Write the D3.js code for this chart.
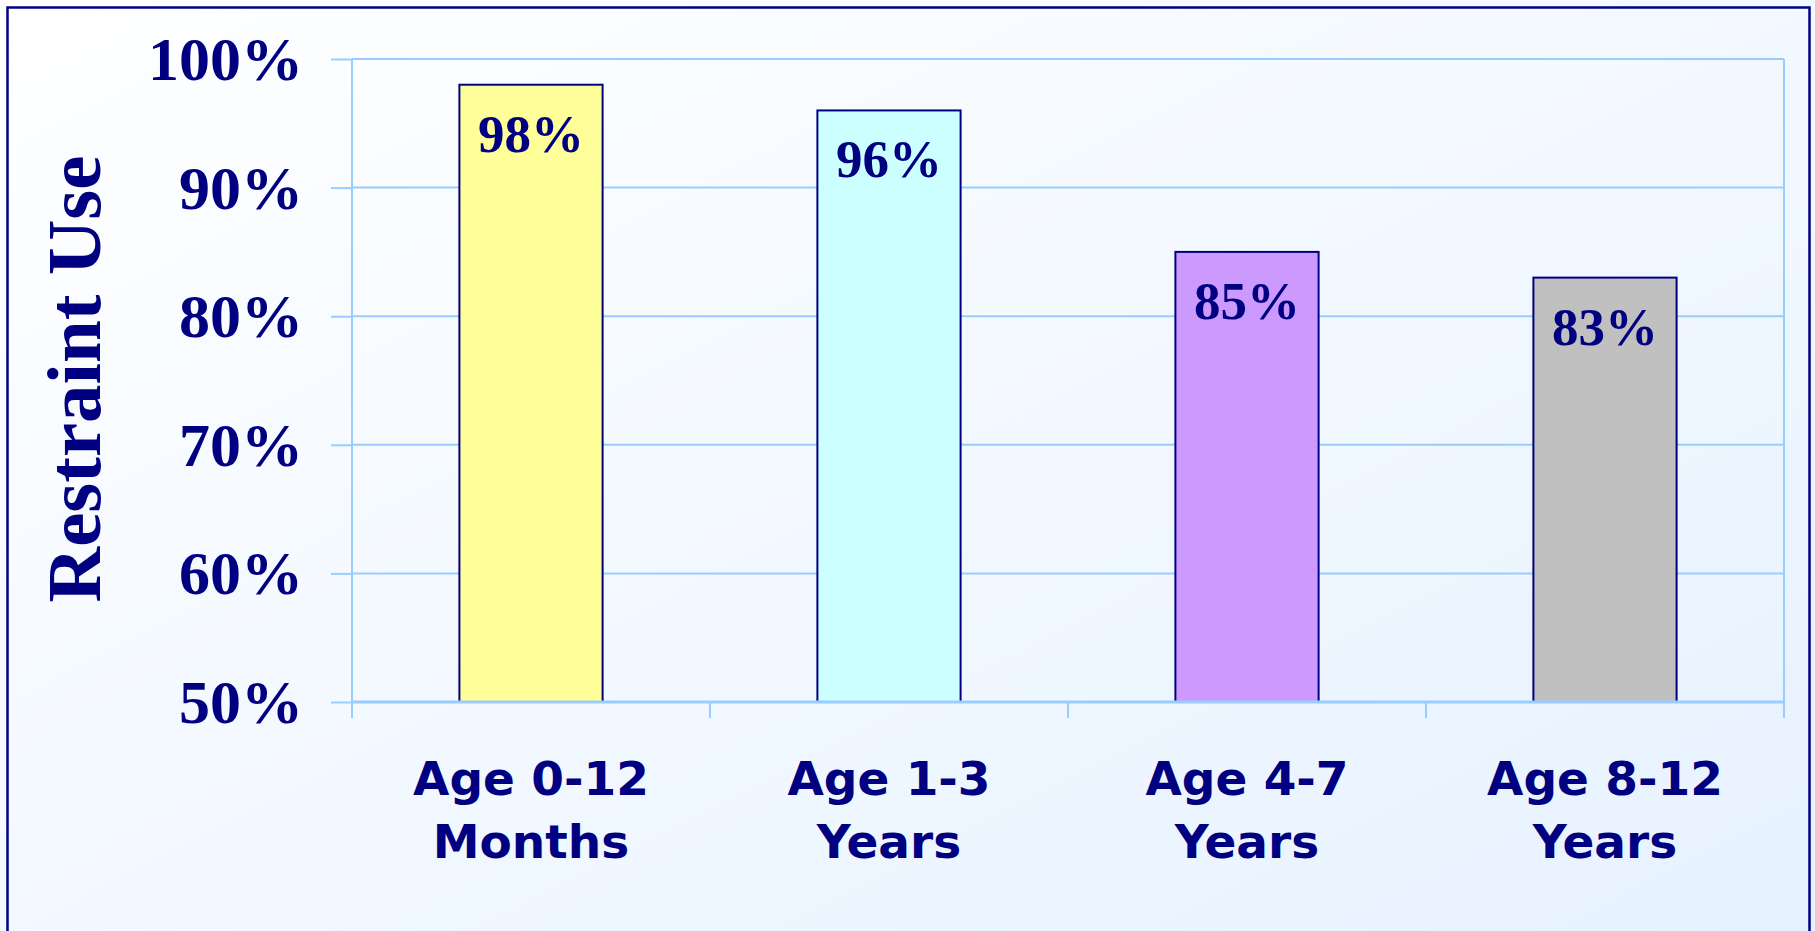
<!DOCTYPE html>
<html>
<head>
<meta charset="utf-8">
<script src="https://cdn.jsdelivr.net/npm/d3@7"></script>
<style>
  body { margin: 0; background: #fff; }
  svg { display: block; }
  .serif { font-family: "Liberation Serif", "Times New Roman", serif; font-weight: bold; fill: #000080; }
  .sans { font-family: "DejaVu Sans", Verdana, sans-serif; font-weight: bold; fill: #000080; }
</style>
</head>
<body>
<svg id="chart"></svg>
<script>
// DATA
const categories = ['Age 0-12 Months', 'Age 1-3 Years', 'Age 4-7 Years', 'Age 8-12 Years'];
const categoryLines = [['Age 0-12', 'Months'], ['Age 1-3', 'Years'], ['Age 4-7', 'Years'], ['Age 8-12', 'Years']];
const restraintUse = [0.98, 0.96, 0.85, 0.83];
const barColors = ['#FFFF99', '#CCFFFF', '#CC99FF', '#C0C0C0'];
const yTicks = [0.5, 0.6, 0.7, 0.8, 0.9, 1.0];

const _width = 1815, _height = 931;
const _navy = '#000080', _grid = '#99CCFF';
const _plot = {left: 352, right: 1784, top: 59, bottom: 702};

let svg = d3.select('#chart')
            .attr('width', _width)
            .attr('height', _height);

// background gradient
let defs = svg.append('defs');
let grad = defs.append('linearGradient')
                .attr('id', 'bg')
                .attr('x1', '0%').attr('y1', '0%')
                .attr('x2', '100%').attr('y2', '100%');
    grad.append('stop').attr('offset', '0%').attr('stop-color', '#FFFFFF');
    grad.append('stop').attr('offset', '100%').attr('stop-color', '#E6F2FF');

svg.append('rect')
      .attr('x', 0).attr('y', 0)
      .attr('width', _width).attr('height', _height)
      .attr('fill', 'url(#bg)');
svg.append('rect')
      .attr('x', 7.5).attr('y', 7.5)
      .attr('width', 1802).attr('height', 1000)
      .attr('fill', 'none')
      .attr('stroke', _navy)
      .attr('stroke-width', 2.5);

// SCALES
let y = d3.scaleLinear()
          .domain([0.5, 1.0])
          .range([_plot.bottom, _plot.top]);
let x = d3.scaleBand()
          .domain(categories)
          .range([_plot.left, _plot.right])
          .paddingInner(0.6)
          .paddingOuter(0.3);
let xCat = d3.scaleBand()
          .domain(categories)
          .range([_plot.left, _plot.right])
          .padding(0);

// gridlines
svg.append('g')
    .selectAll('line')
    .data(yTicks)
    .enter()
    .append('line')
      .attr('x1', _plot.left)
      .attr('x2', _plot.right)
      .attr('y1', d => y(d))
      .attr('y2', d => y(d))
      .attr('stroke', _grid)
      .attr('stroke-width', 2);

// plot frame sides
svg.append('line')
    .attr('x1', _plot.left).attr('x2', _plot.left)
    .attr('y1', _plot.top).attr('y2', _plot.bottom)
    .attr('stroke', _grid).attr('stroke-width', 2);
svg.append('line')
    .attr('x1', _plot.right).attr('x2', _plot.right)
    .attr('y1', _plot.top).attr('y2', _plot.bottom)
    .attr('stroke', _grid).attr('stroke-width', 2);

// y axis
let yAxis = svg.append('g')
                .attr('transform', `translate(${_plot.left}, 0)`)
                .call(d3.axisLeft(y)
                        .tickValues(yTicks)
                        .tickFormat(d3.format('.0%'))
                        .tickSize(21)
                        .tickPadding(28));
    yAxis.select('.domain').remove();
    yAxis.selectAll('line').attr('stroke', _grid).attr('stroke-width', 2);
    yAxis.selectAll('text')
            .attr('class', 'serif')
            .attr('font-size', 62)
            .attr('dy', '0.33em');

// bars
svg.append('g')
    .selectAll('rect')
    .data(restraintUse)
    .enter()
    .append('rect')
      .attr('x', (d, i) => x(categories[i]))
      .attr('y', d => y(d))
      .attr('width', x.bandwidth())
      .attr('height', d => y(0.5) - y(d))
      .attr('fill', (d, i) => barColors[i])
      .attr('stroke', _navy)
      .attr('stroke-width', 2);

// bar value labels
svg.append('g')
    .selectAll('text')
    .data(restraintUse)
    .enter()
    .append('text')
      .attr('class', 'serif')
      .attr('font-size', 53)
      .attr('text-anchor', 'middle')
      .attr('x', (d, i) => x(categories[i]) + x.bandwidth() / 2)
      .attr('y', d => y(d) + 67)
      .text(d => d3.format('.0%')(d));

// x axis ticks at category boundaries
let xBounds = categories.map(c => xCat(c)).concat([xCat(categories[categories.length - 1]) + xCat.bandwidth()]);
svg.append('line')
    .attr('x1', _plot.left).attr('x2', _plot.right)
    .attr('y1', _plot.bottom).attr('y2', _plot.bottom)
    .attr('stroke', _grid).attr('stroke-width', 3);
svg.append('g')
    .selectAll('line')
    .data(xBounds)
    .enter()
    .append('line')
      .attr('x1', d => d).attr('x2', d => d)
      .attr('y1', _plot.bottom).attr('y2', _plot.bottom + 16)
      .attr('stroke', _grid)
      .attr('stroke-width', 2);

// category labels
let catLabels = svg.append('g')
                    .selectAll('text')
                    .data(categoryLines)
                    .enter()
                    .append('text')
                      .attr('class', 'sans')
                      .attr('font-size', 47)
                      .attr('text-anchor', 'middle');
    catLabels.selectAll('tspan')
              .data((d, i) => d.map(line => ({line, i})))
              .enter()
              .append('tspan')
                .attr('x', d => xCat(categories[d.i]) + xCat.bandwidth() / 2)
                .attr('y', (d, j) => 795 + j * 63)
                .text(d => d.line);

// axis title
svg.append('text')
    .attr('class', 'serif')
    .attr('font-size', 77)
    .attr('text-anchor', 'middle')
    .attr('transform', 'translate(100, 379) rotate(-90)')
    .text('Restraint Use');
</script>
</body>
</html>
